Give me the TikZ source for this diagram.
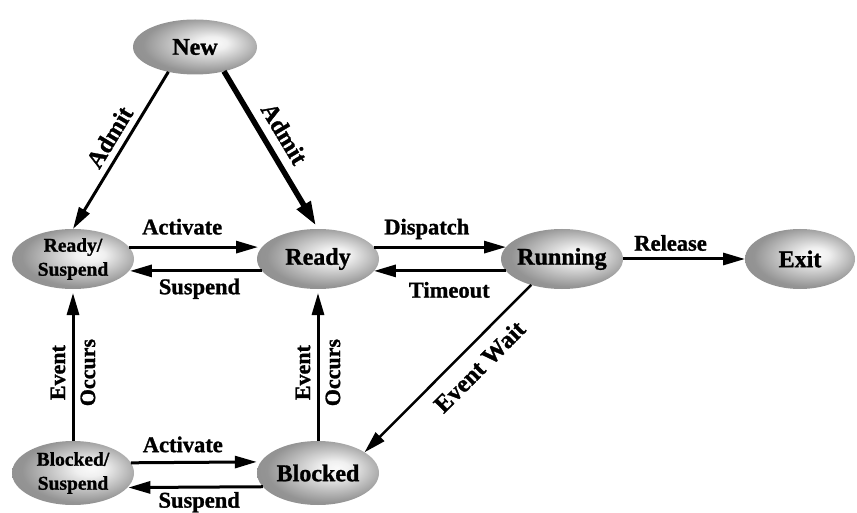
\documentclass[tikz,border=0pt]{standalone}
\usepackage{fontspec}
\setmainfont{Liberation Serif}[BoldFeatures={FakeBold=1.2}]
\usetikzlibrary{arrows.meta,shapes.geometric}
\pgfdeclareradialshading{stateball}{\pgfpoint{8bp}{4bp}}{color(0bp)=(black!2); color(6bp)=(black!6); color(25bp)=(black!42); color(50bp)=(black!48)}
\tikzset{
  state/.style={ellipse, shading=stateball, draw=none, inner sep=-10pt, outer sep=0pt,
    minimum width=122pt, minimum height=60pt, align=center,
    font=\fontsize{24}{26}\selectfont\bfseries},
  twoline/.style={font=\fontsize{19.5}{24}\selectfont\bfseries},
  lab/.style={font=\fontsize{22.5}{26}\selectfont\bfseries, inner sep=0pt, anchor=base},
  dlab/.style={font=\fontsize{24.5}{28}\selectfont\bfseries, inner sep=0pt, sloped},
  vlab/.style={font=\fontsize{22}{30}\selectfont\bfseries, inner sep=0pt, rotate=90, align=center},
  arr/.style={line width=3pt, -{Triangle[length=22pt,width=12pt]}},
  thickarr/.style={line width=5.5pt, -{Triangle[length=24pt,width=15pt]}},
  thinarr/.style={line width=2.5pt, -{Triangle[length=22pt,width=12pt]}}
}
\begin{document}
\begin{tikzpicture}[x=1pt,y=-1pt]
\useasboundingbox (0,0) rectangle (857,513);
\node[state, minimum width=124pt, minimum height=55pt] (new) at (195,47) {New};
\node[state, twoline] (rs) at (73,259) {Ready/\\Suspend};
\node[state] (r) at (318,259) {Ready};
\node[state] (run) at (562,259) {Running};
\node[state, minimum width=110pt] (exit) at (800,259) {Exit};
\node[state, twoline, minimum height=64pt] (bs) at (73,473) {Blocked/\\Suspend};
\node[state, minimum height=64pt] (b) at (318,473) {Blocked};

\draw[arr] (new.223) -- (rs.north)
  node[dlab, pos=0.47, yshift=16.5pt] {Admit};
\draw[thickarr, shorten >=4pt] (new.320.6) -- (r.north)
  node[dlab, pos=0.46, yshift=20pt] {Admit};
\draw[arr, shorten >=4pt] (rs.12) -- (r.168)
  node[lab, pos=0.40, yshift=12.7pt] {Activate};
\draw[arr, shorten >=1pt] (r.192) -- (rs.348)
  node[lab, pos=0.47, yshift=-23.3pt] {Suspend};
\draw[arr] (r.12) -- (run.168)
  node[lab, pos=0.40, yshift=12.7pt] {Dispatch};
\draw[arr] (run.192) -- (r.348)
  node[lab, pos=0.43, yshift=-26.7pt] {Timeout};
\draw[arr] (run.east) -- (exit.west)
  node[lab, pos=0.39, yshift=8.3pt] {Release};
\draw[thinarr] (run.220.6) -- (b.24)
  node[dlab, pos=0.40, yshift=-21pt] {Event Wait};
\draw[arr, shorten >=4pt] (bs.north) -- (rs.south)
  node[vlab, pos=0.45] {Event\\Occurs};
\draw[arr, shorten >=4pt] (b.north) -- (r.south)
  node[vlab, pos=0.45] {Event\\Occurs};
\draw[arr, shorten >=4pt] (bs.10.9) -- (b.169.1)
  node[lab, pos=0.40, yshift=10.3pt] {Activate};
\draw[arr, shorten >=1pt] (b.194.3) -- (bs.345.7)
  node[lab, pos=0.47, yshift=-20.5pt] {Suspend};
\end{tikzpicture}
\end{document}
